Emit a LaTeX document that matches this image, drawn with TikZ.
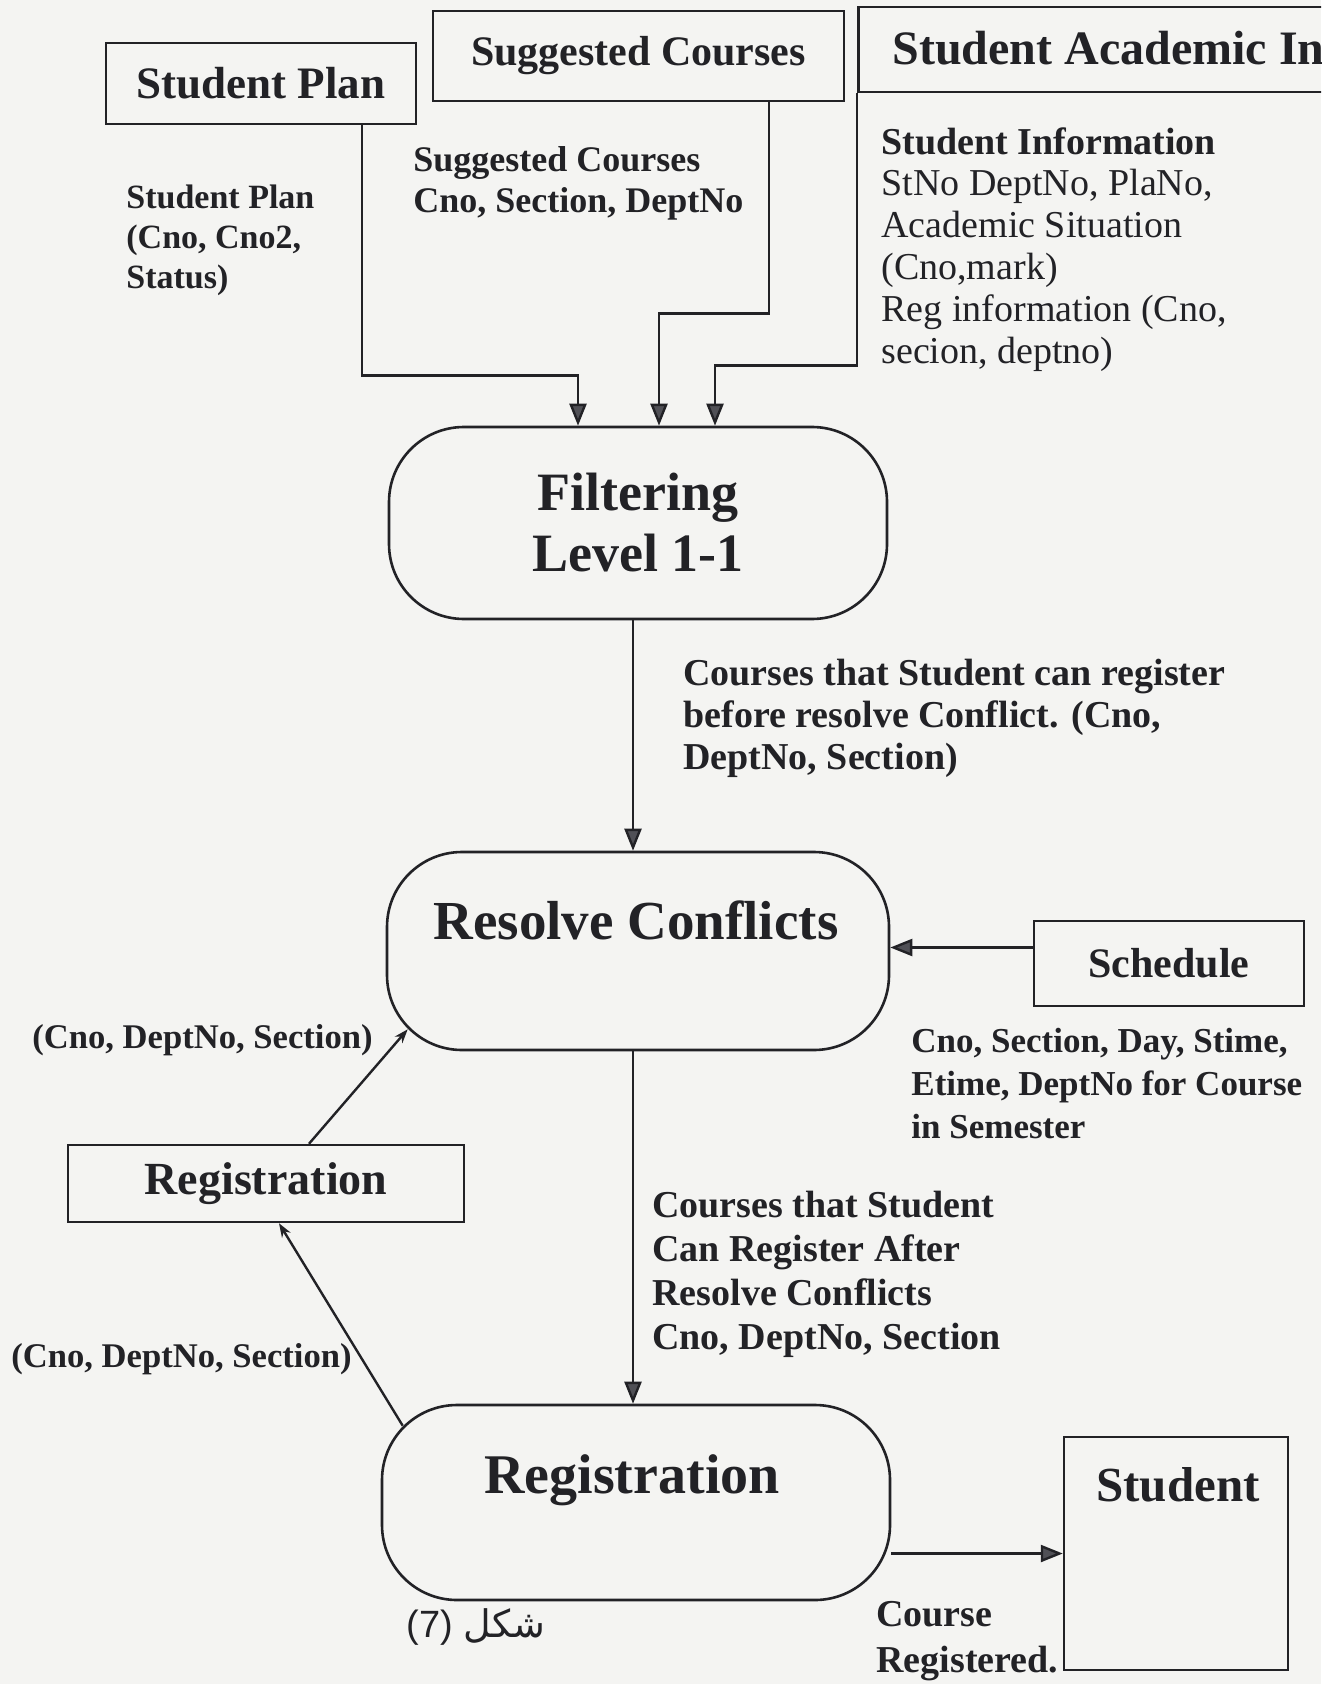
\documentclass[tikz,border=0pt]{standalone}
\usepackage{fontspec}
\setmainfont{Liberation Serif}
\newfontfamily\capsans{Liberation Sans}
\newfontfamily\arabicfont[Script=Arabic]{DejaVu Sans}
\TeXXeTstate=1
\usetikzlibrary{arrows.meta,calc}
\newcommand\fsz[2]{\fontsize{#1}{#2}\selectfont}
\definecolor{ink}{RGB}{34,34,38}
\definecolor{paper}{RGB}{244,244,242}
\definecolor{headgray}{RGB}{80,80,86}
\tikzset{
  line/.style={draw=ink, line width=1.2pt},
  boxn/.style={draw=ink, line width=1.25pt, inner sep=0pt},
  proc/.style={draw=ink, line width=1.3pt, rounded corners=37.5pt, inner sep=0pt},
  txt/.style={inner sep=0pt, text=ink},
  arr/.style={line, -{Triangle[length=11pt,width=8.5pt,fill=headgray]}},
  thinarr/.style={line, -{Stealth[length=7pt,width=5pt]}},
}
\begin{document}
\begin{tikzpicture}[x=0.5pt, y=-0.5pt]
\useasboundingbox (0,0) rectangle (1321,1684);
\fill[paper] (0,0) rectangle (1321,1684);
\clip (0,0) rectangle (1321,1684);

% data stores at the top
\node[boxn, txt, minimum width=155pt, minimum height=40.5pt, font=\bfseries\fsz{22.5}{26}]
  (sp) at (261,83.5) {Student Plan};
\node[boxn, txt, minimum width=205.5pt, minimum height=45pt, font=\bfseries\fsz{21}{25}]
  (sc) at (638.5,56) {Suggested Courses};
\node[boxn, anchor=north west, minimum width=271.5pt, minimum height=42.5pt]
  (sa) at (857,6) {};
\node[txt, anchor=west, font=\bfseries\fsz{24}{28}] (saT) at (892,48) {Student Academic In};

% flow labels of the inputs
\node[txt, anchor=north west, align=left, font=\bfseries\fsz{17}{20}] (splab) at (126,185)
  {Student Plan\\(Cno, Cno2,\\Status)};
\node[txt, anchor=north west, align=left, font=\bfseries\fsz{18}{20.5}] (sclab) at (413,146)
  {Suggested Courses\\Cno, Section, DeptNo};
\node[txt, anchor=north west, align=left, font=\fsz{19}{20.9}] (salab) at (881,127)
  {\textbf{Student Information}\\StNo DeptNo, PlaNo,\\Academic Situation\\(Cno,mark)\\Reg information (Cno,\\secion, deptno)};

% processes
\node[proc, txt, minimum width=249pt, minimum height=96pt, align=center,
  font=\bfseries\fsz{27}{30.5}] (fil) at (638,523) {Filtering\\Level 1-1};
\node[proc, minimum width=251pt, minimum height=99pt] (res) at (638,951) {};
\node[txt, font=\bfseries\fsz{27.5}{32}] (resT) at (636,920) {Resolve Conflicts};
\node[proc, minimum width=254pt, minimum height=97.5pt] (regp) at (636,1502.5) {};
\node[txt, font=\bfseries\fsz{28}{32}] (regpT) at (632,1480) {Registration};

% other stores
\node[boxn, txt, minimum width=135pt, minimum height=42.5pt, font=\bfseries\fsz{21}{25}]
  (sched) at (1169,963.5) {Schedule};
\node[boxn, txt, minimum width=198pt, minimum height=38.5pt, font=\bfseries\fsz{23}{27}]
  (regb) at (266,1183.5) {Registration};
\node[boxn, minimum width=112pt, minimum height=116.5pt] (stu) at (1176,1553.5) {};
\node[txt, font=\bfseries\fsz{24.5}{28}] (stuT) at (1178,1485) {Student};

% connector labels
\node[txt, anchor=north west, align=left, font=\bfseries\fsz{19}{20.9}] (c1lab) at (683,659)
  {Courses that Student can register\\before resolve Conflict. (Cno,\\DeptNo, Section)};
\node[txt, anchor=north west, align=left, font=\bfseries\fsz{17.5}{21.5}] (schlab) at (911,1028)
  {Cno, Section, Day, Stime,\\Etime, DeptNo for Course\\in Semester};
\node[txt, anchor=north west, align=left, font=\bfseries\fsz{19}{22}] (c2lab) at (652,1191)
  {Courses that Student\\Can Register After\\Resolve Conflicts\\Cno, DeptNo, Section};
\node[txt, anchor=west, font=\bfseries\fsz{17.3}{20}] (up) at (32,1040) {(Cno, DeptNo, Section)};
\node[txt, anchor=west, font=\bfseries\fsz{17.3}{20}] (down) at (11,1359) {(Cno, DeptNo, Section)};
\node[txt, anchor=north west, align=left, font=\bfseries\fsz{19}{23}] (outlab) at (876,1601)
  {Course\\Registered.};

% figure caption
\node[txt, font=\capsans\fsz{19}{22}] (cap) at (476,1627)
  {(7) {\arabicfont\beginR شكل\endR}};

% connectors into the filtering step
\draw[arr] ([xshift=50.5pt]sp.south) |- ([xshift=-30pt,yshift=25pt]fil.north) -- ([xshift=-30pt]fil.north);
\draw[arr] ([xshift=65.25pt]sc.south) |- ([xshift=10.5pt,yshift=56pt]fil.north) -- ([xshift=10.5pt]fil.north);
\draw[arr] (sa.south west) |- ([xshift=38.5pt,yshift=30pt]fil.north) -- ([xshift=38.5pt]fil.north);

% main flow
\draw[arr] ([xshift=-2.5pt]fil.south) -- ([xshift=-2.5pt]fil.south |- res.north);
\draw[arr] ([yshift=8pt]sched.west) -- ([yshift=8pt]sched.west -| res.east);
\draw[arr] ([xshift=-2.5pt]res.south) -- ([xshift=-2.5pt]res.south |- regp.north);
\draw[arr] (regp.east |- stu.west) -- (stu.west);

% loop through the registration store
\draw[thinarr] ($(regp.north west)+(22,22)$) -- ([xshift=6.5pt]regb.south);
\draw[thinarr] ([xshift=21.5pt]regb.north) -- ($(res.south west)+(22,-22)$);
\end{tikzpicture}
\end{document}
